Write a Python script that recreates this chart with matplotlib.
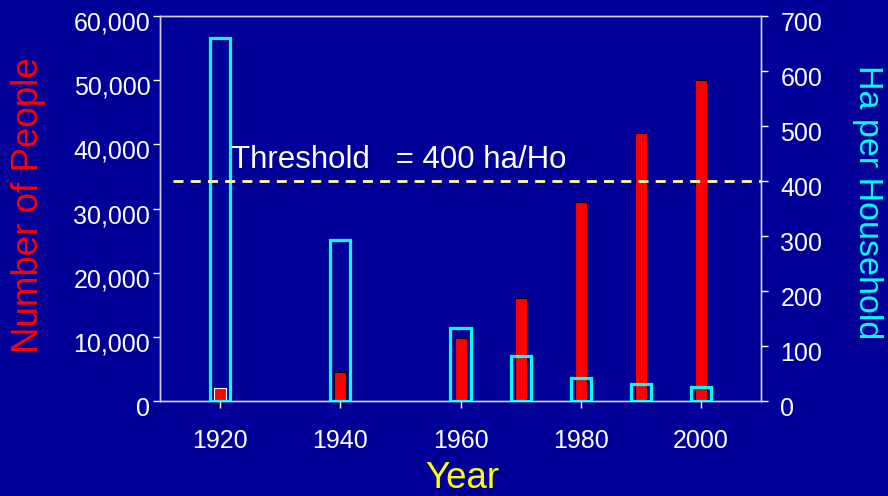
import matplotlib.pyplot as plt
import matplotlib.transforms as mtransforms
from matplotlib.ticker import FuncFormatter

years = [1920, 1940, 1960, 1970, 1980, 1990, 2000]
people = [2000, 4500, 9800, 16000, 31000, 41800, 50000]
ha_per_household = [660, 293, 133, 82, 42, 31, 25]
threshold = 400

xticks = [1920, 1940, 1960, 1980, 2000]
left_ticks = list(range(0, 60001, 10000))
right_ticks = list(range(0, 701, 100))

bg = '#000099'
plt.rcParams['font.family'] = ['Liberation Sans', 'DejaVu Sans']

fig = plt.figure(figsize=(8.88, 4.96), dpi=100)
fig.patch.set_facecolor(bg)
ax = fig.add_axes([0.1802, 0.1915, 0.6768, 0.7762])
ax.set_facecolor(bg)

# people, left axis
ax.bar(years, people, width=2.0, color='#FF0000',
       edgecolor=['white'] + ['black'] * (len(years) - 1), linewidth=0.8, zorder=2)
ax.set_xlim(1910, 2010)
ax.set_ylim(0, 60000)
ax.set_xticks(xticks)
ax.set_yticks(left_ticks)
ax.yaxis.set_major_formatter(FuncFormatter(lambda v, p: '{:,.0f}'.format(v)))

# hectares per household, right axis
ax2 = ax.twinx()
ax2.bar(years, ha_per_household, width=3.35, facecolor='none',
        edgecolor='#00FFFF', linewidth=2.3, zorder=3)
ax2.set_ylim(0, 700)
ax2.set_yticks(right_ticks)
ax2.plot([1912.2, 2010], [threshold, threshold], color='#FFFF99',
         linestyle=(0, (3.6, 2.6)), linewidth=2, zorder=4)
ax2.text(1921.8, 424, 'Threshold   = {} ha/Ho'.format(threshold),
         color='white', fontsize=22.5, va='baseline', ha='left')

for a in (ax, ax2):
    for s in a.spines.values():
        s.set_color('#D0D0E0')
        s.set_linewidth(1)
    a.tick_params(colors='white', labelsize=18, length=5, width=1)
ax.tick_params(axis='x', pad=15)
ax.tick_params(axis='y', pad=2)
ax2.tick_params(axis='y', pad=9)

# y labels sit a little below their ticks
shift = mtransforms.ScaledTranslation(0, -5 / 100, fig.dpi_scale_trans)
for lab in ax.get_yticklabels() + ax2.get_yticklabels():
    lab.set_transform(lab.get_transform() + shift)

fig.text(0.032, 0.587, 'Number of People', color='#FF0000', fontsize=26.5,
         rotation=90, ha='center', va='center')
fig.text(0.977, 0.593, 'Ha per Household', color='#00FFFF', fontsize=24.5,
         rotation=270, ha='center', va='center')
fig.text(0.521, 0.036, 'Year', color='#FFFF00', fontsize=26.5,
         ha='center', va='center')

fig.savefig('out.png', dpi=100, facecolor=bg)
